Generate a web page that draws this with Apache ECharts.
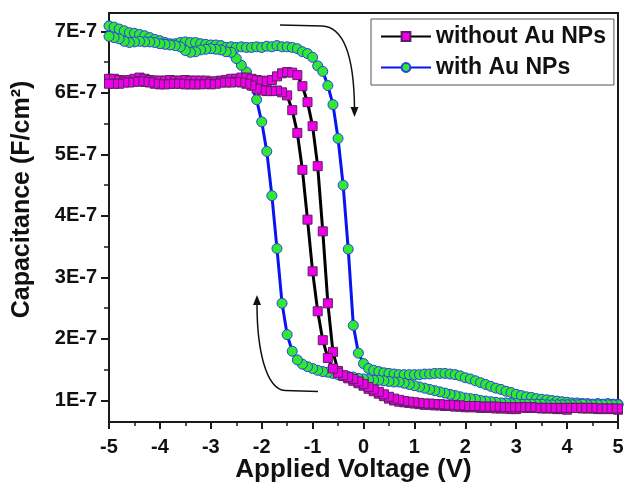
<!DOCTYPE html>
<html>
<head>
<meta charset="utf-8">
<script src="https://cdn.jsdelivr.net/npm/echarts@6/dist/echarts.min.js"></script>
<style>html,body{margin:0;padding:0;background:#fff;}#c{width:625px;height:482px;}</style>
</head>
<body>
<div id="c"></div>
<script>
// Applied voltage grid (V)
const voltage = [
 -5.0,-4.9,-4.8,-4.7,-4.6,-4.5,-4.4,-4.3,-4.2,-4.1,
 -4.0,-3.9,-3.8,-3.7,-3.6,-3.5,-3.4,-3.3,-3.2,-3.1,
 -3.0,-2.9,-2.8,-2.7,-2.6,-2.5,-2.4,-2.3,-2.2,-2.1,
 -2.0,-1.9,-1.8,-1.7,-1.6,-1.5,-1.4,-1.3,-1.2,-1.1,
 -1.0,-0.9,-0.8,-0.7,-0.6,-0.5,-0.4,-0.3,-0.2,-0.1,
 0.0,0.1,0.2,0.3,0.4,0.5,0.6,0.7,0.8,0.9,
 1.0,1.1,1.2,1.3,1.4,1.5,1.6,1.7,1.8,1.9,
 2.0,2.1,2.2,2.3,2.4,2.5,2.6,2.7,2.8,2.9,
 3.0,3.1,3.2,3.3,3.4,3.5,3.6,3.7,3.8,3.9,
 4.0,4.1,4.2,4.3,4.4,4.5,4.6,4.7,4.8,4.9,
 5.0
];
// Capacitance in units of 1E-7 F/cm2, listed at ascending voltage
// with Au NPs, forward sweep (-5 -> 5)
const withFwd = [
 7.09,7.07,7.04,7.01,6.98,6.97,6.95,6.93,6.90,6.87,
 6.85,6.82,6.80,6.80,6.82,6.83,6.82,6.82,6.80,6.79,
 6.78,6.78,6.77,6.74,6.75,6.74,6.75,6.74,6.74,6.75,
 6.74,6.76,6.75,6.77,6.75,6.75,6.74,6.72,6.67,6.64,
 6.58,6.44,6.35,6.12,5.81,5.26,4.50,3.46,2.22,1.77,
 1.60,1.52,1.49,1.47,1.45,1.44,1.43,1.42,1.42,1.42,
 1.42,1.42,1.43,1.43,1.44,1.44,1.44,1.43,1.42,1.40,
 1.37,1.35,1.32,1.29,1.26,1.23,1.20,1.18,1.15,1.13,
 1.10,1.08,1.06,1.05,1.03,1.02,1.01,1.00,0.99,0.98,
 0.97,0.96,0.96,0.95,0.95,0.94,0.95,0.94,0.95,0.94,
 0.94
];
// with Au NPs, reverse sweep (5 -> -5), listed at ascending voltage
const withRev = [
 6.92,6.90,6.88,6.84,6.82,6.83,6.84,6.83,6.83,6.82,
 6.80,6.79,6.78,6.77,6.75,6.69,6.66,6.67,6.70,6.71,
 6.72,6.71,6.70,6.67,6.66,6.56,6.45,6.34,6.12,5.89,
 5.53,5.05,4.33,3.47,2.58,2.07,1.80,1.66,1.59,1.55,
 1.52,1.49,1.47,1.46,1.44,1.42,1.40,1.39,1.38,1.36,
 1.35,1.34,1.33,1.33,1.32,1.31,1.30,1.30,1.28,1.26,
 1.24,1.22,1.20,1.18,1.16,1.14,1.12,1.10,1.08,1.06,
 1.04,1.03,1.02,1.00,0.99,0.98,0.97,0.96,0.96,0.95,
 0.95,0.94,0.94,0.94,0.94,0.94,0.93,0.93,0.93,0.93,
 0.93,0.93,0.93,0.94,0.93,0.93,0.93,0.93,0.93,0.93,
 0.93
];
// without Au NPs, forward sweep
const withoutFwd = [
 6.23,6.23,6.21,6.20,6.21,6.23,6.25,6.23,6.21,6.20,
 6.20,6.20,6.21,6.20,6.20,6.21,6.20,6.20,6.20,6.20,
 6.18,6.19,6.20,6.21,6.23,6.23,6.25,6.25,6.23,6.21,
 6.20,6.19,6.21,6.27,6.32,6.34,6.33,6.29,6.11,5.85,
 5.46,4.81,3.75,2.58,1.79,1.48,1.40,1.36,1.32,1.28,
 1.24,1.19,1.15,1.11,1.07,1.03,1.00,0.98,0.97,0.96,
 0.95,0.94,0.93,0.93,0.92,0.92,0.91,0.91,0.90,0.90,
 0.89,0.89,0.89,0.88,0.88,0.88,0.87,0.87,0.87,0.86,
 0.86,0.89,0.88,0.88,0.88,0.87,0.87,0.87,0.86,0.86,
 0.85,0.88,0.88,0.87,0.87,0.87,0.86,0.86,0.86,0.86,
 0.85
];
// without Au NPs, reverse sweep, listed at ascending voltage
const withoutRev = [
 6.15,6.15,6.15,6.17,6.17,6.18,6.19,6.18,6.17,6.15,
 6.14,6.14,6.15,6.15,6.15,6.14,6.14,6.14,6.14,6.15,
 6.14,6.15,6.17,6.17,6.17,6.18,6.17,6.15,6.12,6.07,
 6.04,6.03,6.03,6.04,6.01,5.96,5.72,5.35,4.75,3.94,
 3.10,2.45,1.98,1.69,1.52,1.45,1.41,1.38,1.35,1.31,
 1.27,1.22,1.18,1.14,1.10,1.06,1.03,1.01,0.99,0.98,
 0.97,0.96,0.95,0.95,0.94,0.94,0.93,0.93,0.92,0.92,
 0.91,0.91,0.91,0.90,0.90,0.90,0.90,0.89,0.89,0.89,
 0.89,0.89,0.89,0.89,0.88,0.88,0.88,0.88,0.88,0.88,
 0.88,0.88,0.88,0.88,0.88,0.88,0.87,0.87,0.87,0.87,
 0.87
];
const seriesNames = ['without Au NPs', 'with Au NPs'];
const yTickValues = [1, 2, 3, 4, 5, 6, 7];
const yMinorTickValues = [1.5, 2.5, 3.5, 4.5, 5.5, 6.5];
const xAxisTitle = 'Applied Voltage (V)';
const yAxisTitle = 'Capacitance (F/cm²)';

function loop(fwd, rev) {
  const pts = [];
  for (let i = 0; i < voltage.length; i++) pts.push([voltage[i], fwd[i]]);
  for (let i = voltage.length - 1; i >= 0; i--) pts.push([voltage[i], rev[i]]);
  return pts;
}

const FONT = "'Liberation Sans', Arial, sans-serif";
const chart = echarts.init(document.getElementById('c'), null, {renderer: 'canvas'});
const axisLineStyle = {color: '#1a1a1a', width: 2};

chart.setOption({
  animation: false,
  backgroundColor: '#fff',
  textStyle: {fontFamily: FONT},
  grid: {left: 109, top: 13, width: 509, height: 409, show: true, borderColor: '#1a1a1a', borderWidth: 2,
    backgroundColor: 'transparent', containLabel: false, outerBoundsMode: 'none'},
  legend: {
    data: seriesNames,
    orient: 'vertical',
    left: 371, top: 19,
    padding: [6, 8, 6, 9],
    itemGap: 8,
    itemWidth: 50, itemHeight: 11,
    borderColor: '#555', borderWidth: 1,
    textStyle: {fontFamily: FONT, fontWeight: 'bold', fontSize: 23, color: '#111', lineHeight: 22},
    selectedMode: false
  },
  xAxis: {
    type: 'value', min: -5, max: 5, interval: 1,
    axisLine: {show: true, onZero: false, lineStyle: axisLineStyle},
    axisTick: {show: true, length: 7, lineStyle: axisLineStyle},
    minorTick: {show: true, splitNumber: 2, length: 4, lineStyle: {color: '#1a1a1a', width: 1.5}},
    splitLine: {show: false},
    axisLabel: {fontFamily: FONT, fontWeight: 'bold', fontSize: 20, color: '#111', margin: 15},
    name: xAxisTitle, nameLocation: 'middle', nameGap: 35, nameMoveOverlap: false,
    nameTextStyle: {fontFamily: FONT, fontWeight: 'bold', fontSize: 26, color: '#111', padding: [0, 20, 0, 0]}
  },
  yAxis: [{
    type: 'value', min: 0.65, max: 7.3,
    axisLine: {show: true, onZero: false, lineStyle: axisLineStyle},
    axisTick: {show: true, length: 8, lineStyle: axisLineStyle, customValues: yTickValues},
    splitLine: {show: false},
    axisLabel: {customValues: yTickValues, fontFamily: FONT, fontWeight: 'bold', fontSize: 20, color: '#111', margin: 12,
      formatter: v => Math.round(v) + 'E-7'},
    name: yAxisTitle, nameLocation: 'middle', nameGap: 74, nameRotate: 90, nameMoveOverlap: false,
    nameTextStyle: {fontFamily: FONT, fontWeight: 'bold', fontSize: 25, color: '#111', padding: [0, 0, 0, 36]}
  }, {
    type: 'value', min: 0.65, max: 7.3, position: 'left',
    axisLine: {show: false, onZero: false},
    axisTick: {show: true, length: 5, lineStyle: {color: '#1a1a1a', width: 1.5}, customValues: yMinorTickValues},
    axisLabel: {show: false},
    splitLine: {show: false}
  }],
  series: [{
    name: seriesNames[1], type: 'line', yAxisIndex: 0,
    data: loop(withFwd, withRev),
    symbol: 'circle', symbolSize: 10,
    lineStyle: {color: '#0a14f0', width: 3},
    itemStyle: {color: '#2fe82f', borderColor: '#2a3cf0', borderWidth: 1},
    emphasis: {disabled: true}
  }, {
    name: seriesNames[0], type: 'line', yAxisIndex: 0,
    data: loop(withoutFwd, withoutRev),
    symbol: 'rect', symbolSize: 9,
    lineStyle: {color: '#000', width: 3},
    itemStyle: {color: '#f000e8', borderColor: '#5a2060', borderWidth: 1},
    emphasis: {disabled: true}
  }],
  graphic: [
    {type: 'line', shape: {x1: 280, y1: 25, x2: 322, y2: 26}, style: {stroke: '#111', lineWidth: 1.5}},
    {type: 'bezierCurve', shape: {x1: 322, y1: 26, cpx1: 345, cpy1: 27, cpx2: 354, cpy2: 60, x2: 354.5, y2: 108}, style: {stroke: '#111', lineWidth: 1.5, fill: null}},
    {type: 'polygon', shape: {points: [[350.5, 107], [358.5, 107], [354.5, 117]]}, style: {fill: '#111'}},
    {type: 'line', shape: {x1: 318, y1: 391.5, x2: 285, y2: 390.5}, style: {stroke: '#111', lineWidth: 1.5}},
    {type: 'bezierCurve', shape: {x1: 285, y1: 390.5, cpx1: 266, cpy1: 389, cpx2: 257, cpy2: 350, x2: 257, y2: 304}, style: {stroke: '#111', lineWidth: 1.5, fill: null}},
    {type: 'polygon', shape: {points: [[253, 305], [261, 305], [257, 295]]}, style: {fill: '#111'}}
  ]
});
</script>
</body>
</html>
